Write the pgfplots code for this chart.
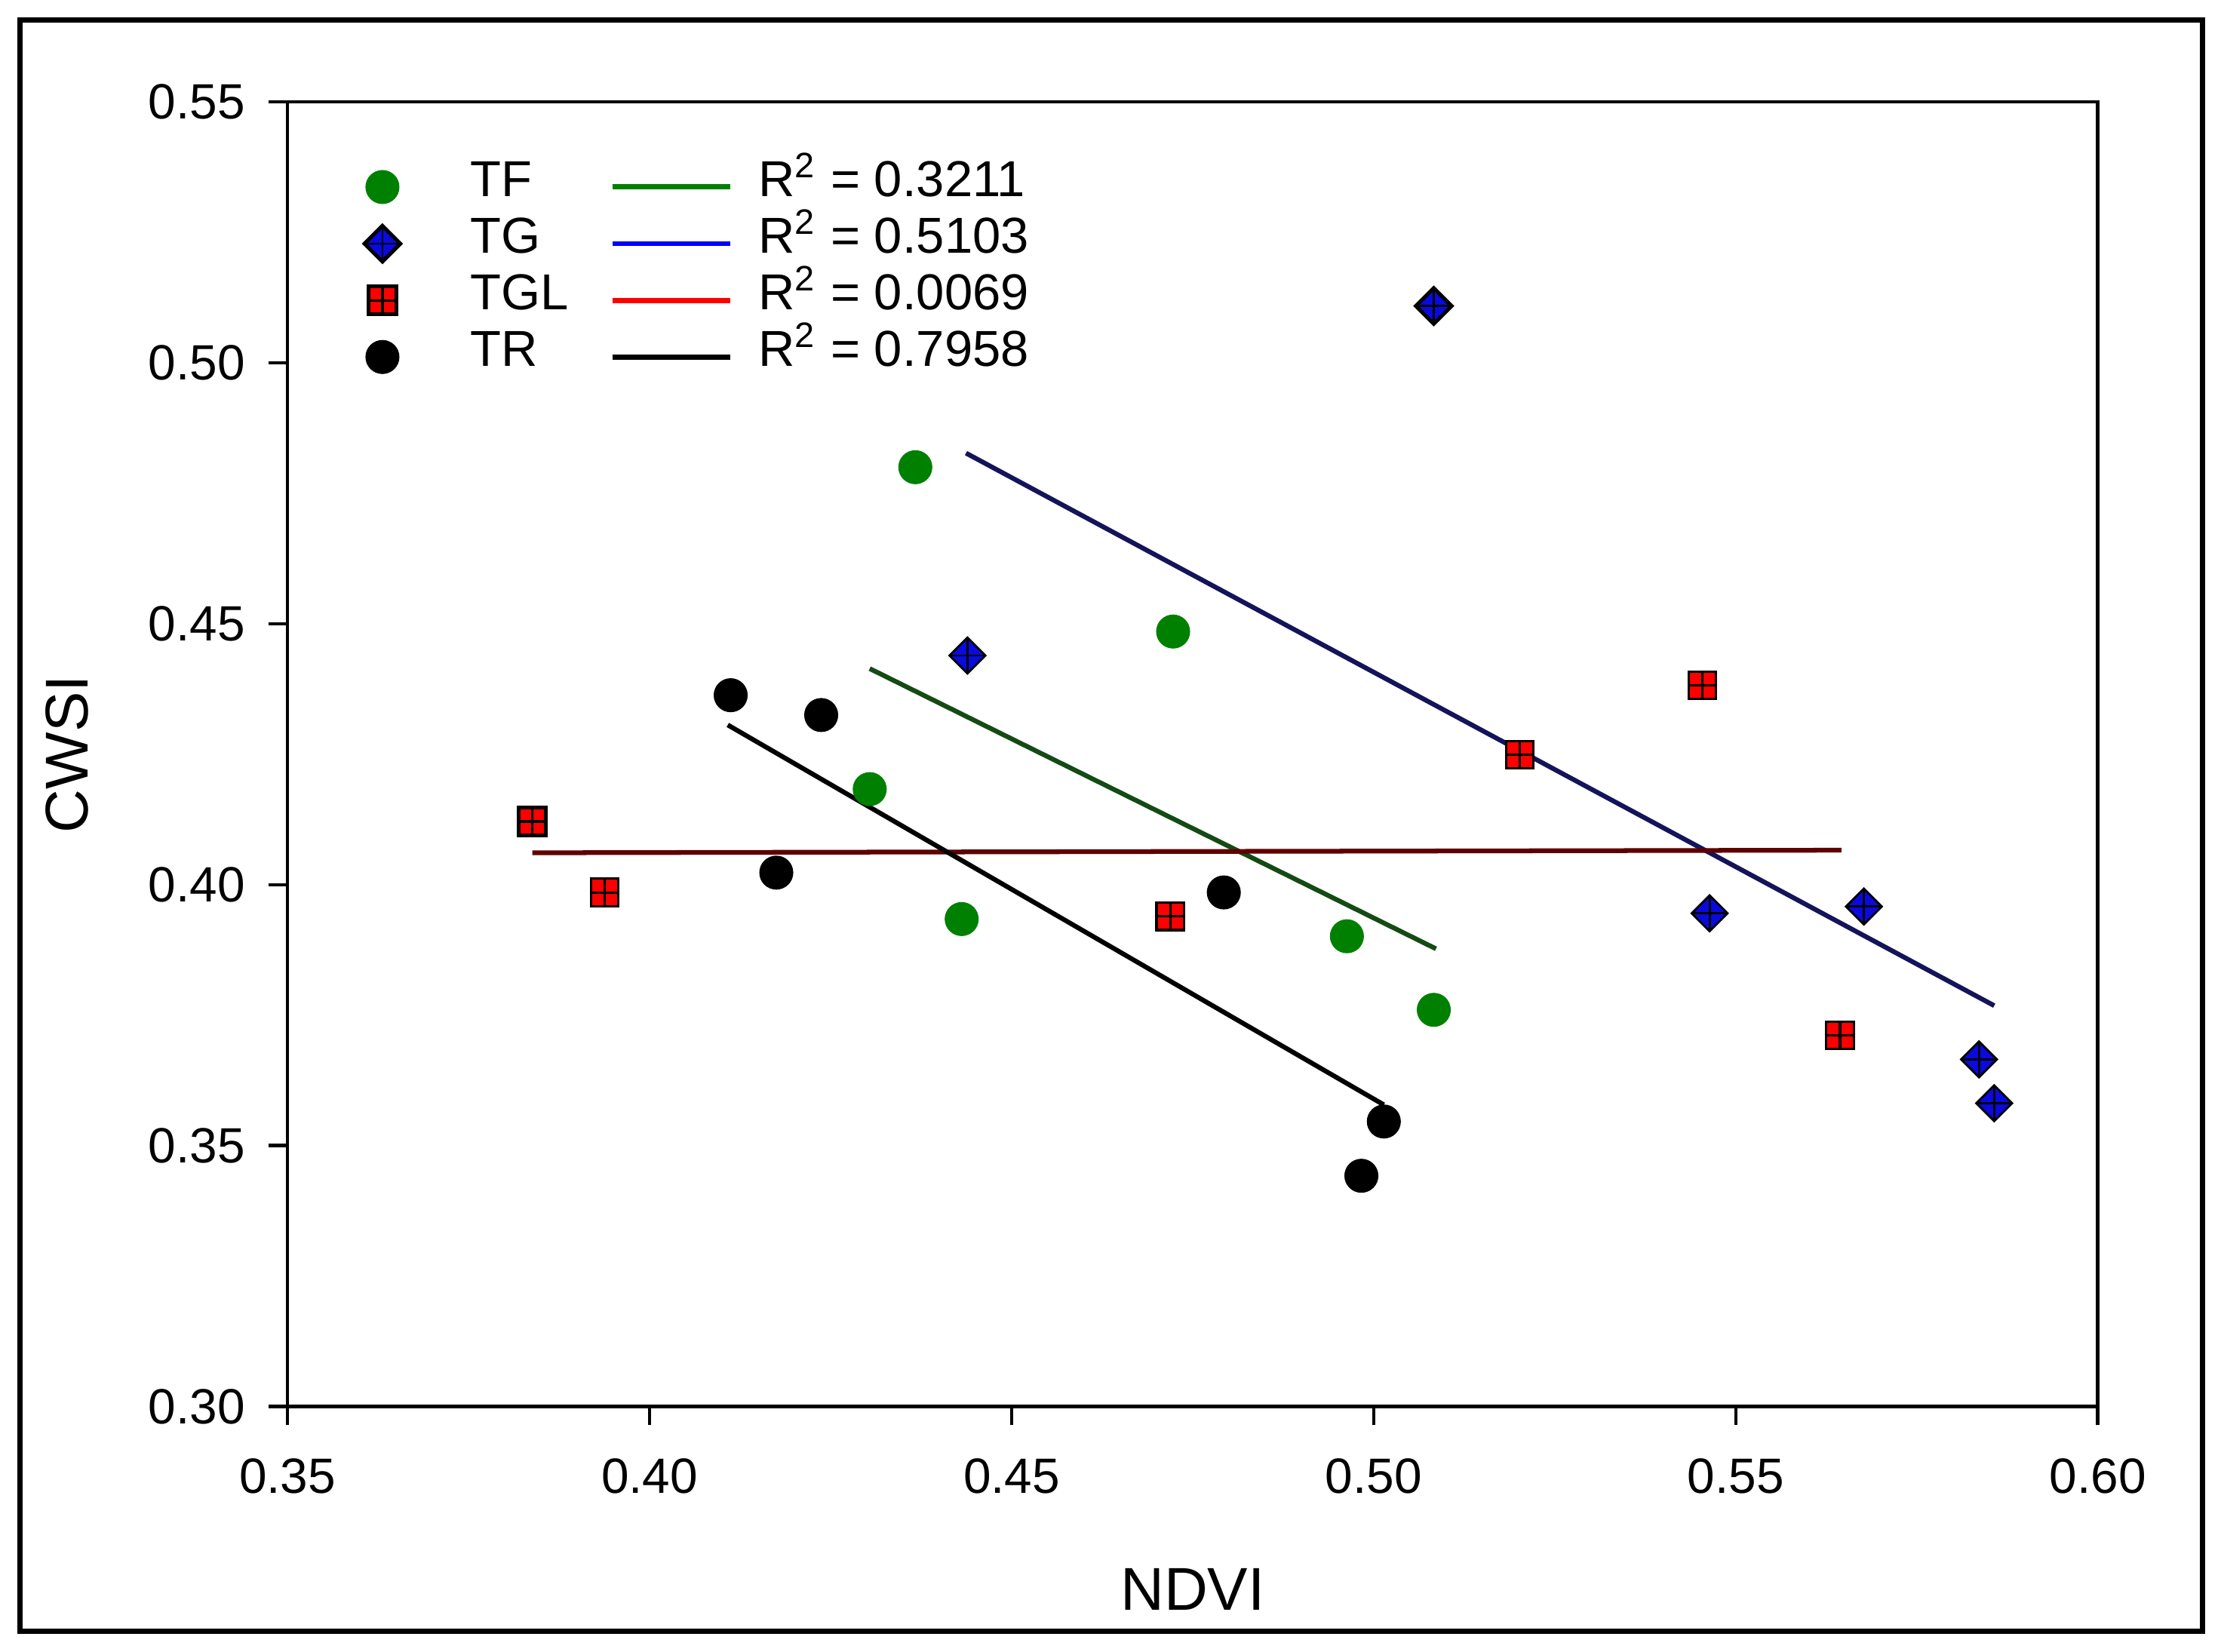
\documentclass[border=0pt]{standalone}
\usepackage{pgfplots}
\pgfplotsset{compat=1.18}
\usepackage{fontspec}
\setmainfont{Liberation Sans}
\definecolor{tfgreen}{RGB}{0,128,0}
\definecolor{tfline}{RGB}{20,75,20}
\definecolor{tgblue}{RGB}{10,10,220}
\definecolor{tgline}{RGB}{20,20,90}
\definecolor{tglred}{RGB}{255,0,0}
\definecolor{tglline}{RGB}{95,0,0}
\pgfdeclareplotmark{tgd}{%
  \pgfpathmoveto{\pgfqpoint{0pt}{\pgfplotmarksize}}%
  \pgfpathlineto{\pgfqpoint{\pgfplotmarksize}{0pt}}%
  \pgfpathlineto{\pgfqpoint{0pt}{-\pgfplotmarksize}}%
  \pgfpathlineto{\pgfqpoint{-\pgfplotmarksize}{0pt}}%
  \pgfpathclose
  \pgfusepathqfillstroke
  \pgfsetlinewidth{0.45pt}%
  \pgfpathmoveto{\pgfqpoint{0pt}{\pgfplotmarksize}}%
  \pgfpathlineto{\pgfqpoint{0pt}{-\pgfplotmarksize}}%
  \pgfpathmoveto{\pgfqpoint{\pgfplotmarksize}{0pt}}%
  \pgfpathlineto{\pgfqpoint{-\pgfplotmarksize}{0pt}}%
  \pgfusepathqstroke
}
\pgfdeclareplotmark{tgls}{%
  \pgfpathrectangle{\pgfqpoint{-\pgfplotmarksize}{-\pgfplotmarksize}}{\pgfqpoint{2\pgfplotmarksize}{2\pgfplotmarksize}}%
  \pgfusepathqfillstroke
  \pgfsetlinewidth{0.5pt}%
  \pgfpathmoveto{\pgfqpoint{0pt}{\pgfplotmarksize}}%
  \pgfpathlineto{\pgfqpoint{0pt}{-\pgfplotmarksize}}%
  \pgfpathmoveto{\pgfqpoint{\pgfplotmarksize}{0pt}}%
  \pgfpathlineto{\pgfqpoint{-\pgfplotmarksize}{0pt}}%
  \pgfusepathqstroke
}
\tikzset{
  tfmark/.style={mark=*, mark size=3.5pt, mark options={fill=tfgreen, draw=tfgreen, line width=0.2pt}},
  tgmark/.style={mark=tgd, mark size=3.8pt, mark options={fill=tgblue, draw=black, line width=0.8pt}},
  tglmark/.style={mark=tgls, mark size=2.9pt, mark options={fill=tglred, draw=black, line width=0.8pt}},
  trmark/.style={mark=*, mark size=3.5pt, mark options={fill=black, draw=black, line width=0.2pt}},
}
\newcommand{\lgm}[1]{\addlegendimage{legend image code/.code={\path[draw=none,fill=none] (0pt,0pt) -- (24.9pt,0pt); \path[draw=none,fill=none,#1] plot coordinates {(6.3pt,0pt)};}}}
\newcommand{\lgl}[1]{\addlegendimage{legend image code/.code={\path[draw=none,fill=none] (0pt,0pt) -- (40.5pt,0pt); \draw[line width=1.1pt, #1] (9.6pt,0pt) -- (34.5pt,0pt);}}}
\begin{document}
\begin{tikzpicture}
\useasboundingbox (-60.9pt,-51.9pt) rectangle (409.5pt,297.9pt);
\draw[line width=1.1pt] (-56.7pt,-47.7pt) rectangle (405.6pt,293.7pt);
\begin{axis}[
  at={(0pt,0pt)}, anchor=south west,
  scale only axis, width=383.4pt, height=276.3pt,
  xmin=0.35, xmax=0.60, ymin=0.30, ymax=0.55,
  xtick={0.35,0.40,0.45,0.50,0.55,0.60},
  ytick={0.30,0.35,0.40,0.45,0.50,0.55},
  tick pos=left, tick align=outside, major tick length=4pt,
  axis line style={line width=0.7pt},
  every tick/.style={black, line width=0.7pt},
  /pgf/number format/assume math mode=true,
  /pgf/number format/fixed, /pgf/number format/fixed zerofill, /pgf/number format/precision=2,
  tick label style={font=\fontsize{10.5}{12}\selectfont},
  xticklabel style={yshift=-3.5pt},
  yticklabel style={xshift=-1.5pt},
  xlabel={NDVI}, ylabel={CWSI},
  label style={font=\fontsize{12.8}{15}\selectfont},
  xlabel style={at={(axis description cs:0.5,-0.1563)}, anchor=base},
  ylabel style={at={(axis description cs:-0.1103,0.5)}, anchor=base},
  legend columns=2,
  legend style={draw=none, fill=none, at={(axis description cs:0.036,0.9565)}, anchor=north west,
    inner sep=0pt, outer sep=0pt, row sep=0pt,
    nodes={inner sep=0pt, text height=8pt, text depth=4pt, anchor=west},
    font=\fontsize{10.7}{12}\selectfont},
  legend cell align=left,
  clip=false,
]
% TF
\addplot[only marks, tfmark, forget plot] coordinates {
(0.4367,0.4800) (0.4723,0.4485) (0.4304,0.4183) (0.4431,0.3934) (0.4963,0.3901) (0.5083,0.3760)};
\addplot[tfline, line width=1pt, forget plot] coordinates {(0.4304,0.4414) (0.5086,0.3877)};
% TG
\addplot[tgline, line width=1pt, forget plot] coordinates {(0.4437,0.4827) (0.5857,0.3768)};
% TGL
\addplot[tglline, line width=1pt, forget plot] coordinates {(0.3838,0.4061) (0.5646,0.4066)};
% TR
\addplot[black, line width=1pt, forget plot] coordinates {(0.4108,0.4306) (0.5014,0.3578)};
\addplot[only marks, tgmark, forget plot] coordinates {
(0.5083,0.5109) (0.4439,0.4439) (0.5464,0.3945) (0.5677,0.3958) (0.5836,0.3665) (0.5857,0.3581)};
\addplot[only marks, tglmark, forget plot] coordinates {
(0.3838,0.4121) (0.3938,0.3985) (0.4719,0.3939) (0.5202,0.4249) (0.5454,0.4382) (0.5644,0.3711)};
\addplot[only marks, trmark, forget plot] coordinates {
(0.4112,0.4363) (0.4237,0.4325) (0.4175,0.4023) (0.4793,0.3985) (0.5014,0.3546) (0.4983,0.3442)};
\lgm{tfmark}\addlegendentry{\makebox[20.5pt][l]{TF}}
\lgl{tfgreen}\addlegendentry{R\textsuperscript{2} = 0.3211}
\lgm{tgmark}\addlegendentry{\makebox[20.5pt][l]{TG}}
\lgl{blue}\addlegendentry{R\textsuperscript{2} = 0.5103}
\lgm{tglmark}\addlegendentry{\makebox[20.5pt][l]{TGL}}
\lgl{red}\addlegendentry{R\textsuperscript{2} = 0.0069}
\lgm{trmark}\addlegendentry{\makebox[20.5pt][l]{TR}}
\lgl{black}\addlegendentry{R\textsuperscript{2} = 0.7958}
\end{axis}
\end{tikzpicture}
\end{document}
